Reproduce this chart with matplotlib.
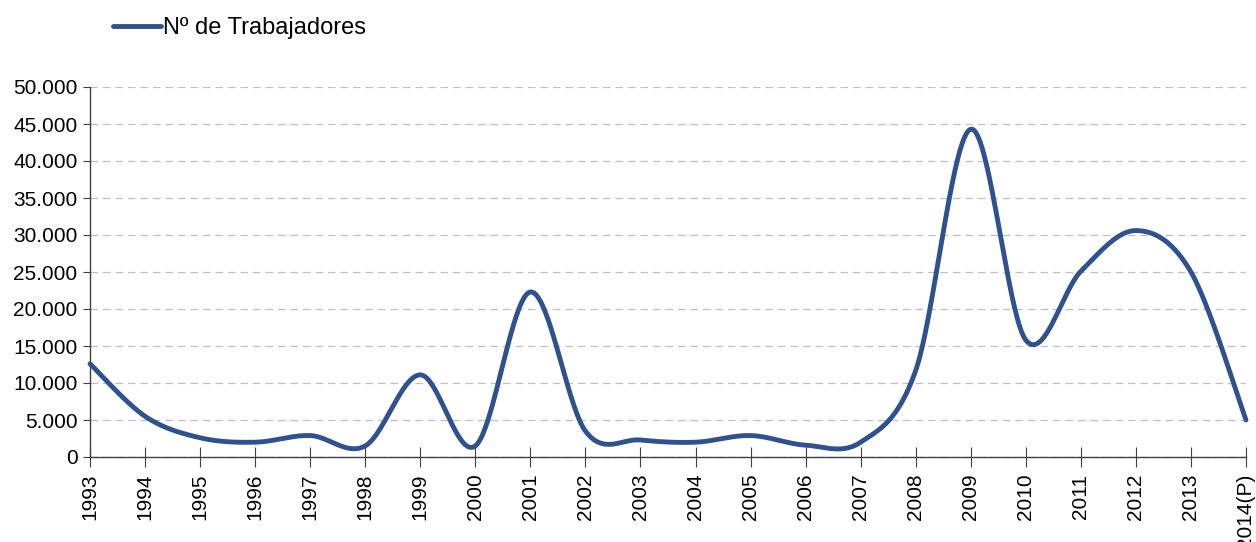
import numpy as np
import matplotlib.pyplot as plt
from matplotlib.ticker import FuncFormatter

plt.rcParams['font.family'] = ['Liberation Sans', 'DejaVu Sans']

# Datos
anios = ['1993', '1994', '1995', '1996', '1997', '1998', '1999', '2000', '2001', '2002', '2003',
         '2004', '2005', '2006', '2007', '2008', '2009', '2010', '2011', '2012', '2013', '2014(P)']
trabajadores = [12600, 5500, 2600, 2000, 2900, 1500, 11100, 1500, 22300, 3500, 2300,
                2000, 2900, 1600, 2000, 11700, 44300, 15800, 25100, 30600, 25000, 5000]

color_linea = '#2F528F'


# Curva suavizada tipo Excel (Bezier con puntos de control a 1/6)
def suavizar(y, pasos=40):
    x = np.arange(len(y), dtype=float)
    y = np.asarray(y, dtype=float)
    px = np.concatenate([[x[0]], x, [x[-1]]])
    py = np.concatenate([[y[0]], y, [y[-1]]])
    xs, ys = [], []
    t = np.linspace(0, 1, pasos)
    for i in range(1, len(px) - 2):
        p0 = np.array([px[i], py[i]])
        p3 = np.array([px[i + 1], py[i + 1]])
        c1 = p0 + (np.array([px[i + 1], py[i + 1]]) - np.array([px[i - 1], py[i - 1]])) / 6
        c2 = p3 - (np.array([px[i + 2], py[i + 2]]) - np.array([px[i], py[i]])) / 6
        b = ((1 - t) ** 3)[:, None] * p0 + (3 * (1 - t) ** 2 * t)[:, None] * c1 \
            + (3 * (1 - t) * t ** 2)[:, None] * c2 + (t ** 3)[:, None] * p3
        xs.extend(b[:, 0])
        ys.extend(b[:, 1])
    return np.array(xs), np.array(ys)


fig = plt.figure(figsize=(12.56, 5.42), dpi=100)
ax = fig.add_axes([90 / 1256, 85 / 542, 1156 / 1256, 370 / 542])

sx, sy = suavizar(trabajadores)
ax.plot(sx, sy, color=color_linea, lw=3.5, solid_capstyle='round', label='Nº de Trabajadores',
        clip_on=False, zorder=3)

ax.set_xlim(0, len(anios) - 1)
ax.set_ylim(0, 50000)
ax.set_xticks(range(len(anios)))
ax.set_xticklabels(anios, rotation=90, fontsize=15)
ax.set_yticks(range(0, 50001, 5000))
ax.yaxis.set_major_formatter(FuncFormatter(lambda v, p: f'{int(v):,}'.replace(',', '.')))
ax.tick_params(axis='y', labelsize=15, direction='out', length=5, color='#404040', pad=4)
ax.tick_params(axis='x', direction='inout', length=14, color='#404040', pad=5)

ax.grid(axis='y', color='#BFBFBF', linestyle=(0, (6, 4)), linewidth=0.9)
ax.set_axisbelow(True)
for s in ['top', 'right']:
    ax.spines[s].set_visible(False)
for s in ['left', 'bottom']:
    ax.spines[s].set_color('#404040')
    ax.spines[s].set_linewidth(1)

fig.legend(loc='center left', bbox_to_anchor=(104 / 1256, 1 - 28 / 542), frameon=False,
           fontsize=17, handlelength=2.0, handletextpad=0.1, borderaxespad=0)

plt.savefig('out.png', dpi=100)
plt.close()
